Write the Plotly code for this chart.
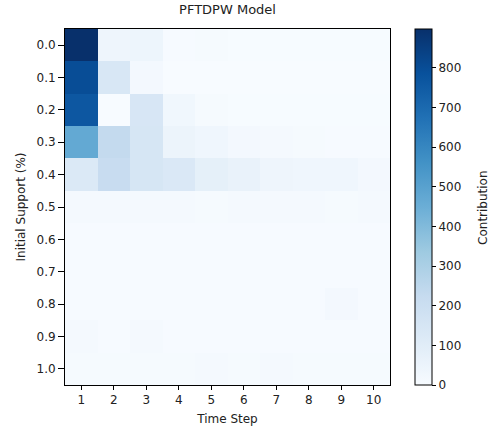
import plotly.graph_objects as go

time_steps = [1, 2, 3, 4, 5, 6, 7, 8, 9, 10]
initial_support = [0.0, 0.1, 0.2, 0.3, 0.4, 0.5, 0.6, 0.7, 0.8, 0.9, 1.0]

contribution = [
    [898, 40, 45, 5, 10, 3, 3, 3, 3, 3],
    [800, 140, 20, 2, 2, 2, 2, 2, 2, 2],
    [765, 0, 145, 30, 10, 3, 3, 3, 3, 3],
    [470, 230, 150, 50, 35, 20, 15, 8, 5, 5],
    [125, 215, 150, 130, 80, 65, 40, 35, 35, 20],
    [15, 15, 15, 15, 10, 15, 15, 15, 10, 15],
    [5, 5, 5, 5, 5, 5, 5, 5, 5, 5],
    [5, 5, 5, 5, 5, 5, 5, 5, 5, 5],
    [5, 5, 5, 5, 5, 5, 5, 5, 20, 5],
    [15, 5, 15, 5, 5, 5, 5, 5, 5, 5],
    [8, 8, 8, 8, 12, 8, 12, 8, 8, 8],
]

blues = [
    [0.0, "#f7fbff"], [0.125, "#deebf7"], [0.25, "#c6dbef"], [0.375, "#9ecae1"],
    [0.5, "#6baed6"], [0.625, "#4292c6"], [0.75, "#2171b5"], [0.875, "#08519c"],
    [1.0, "#08306b"],
]

fig = go.Figure(go.Heatmap(
    x=time_steps, y=initial_support, z=contribution,
    colorscale=blues, zmin=0, zmax=898,
    colorbar=dict(
        x=1.046, xanchor="left", y=0, yanchor="bottom", len=1, lenmode="fraction",
        xpad=10, ypad=0,
        thickness=17, outlinewidth=1, outlinecolor="black",
        ticks="outside", ticklen=4, tickcolor="black",
        tickvals=[0, 100, 200, 300, 400, 500, 600, 700, 800],
        tickfont=dict(size=12, color="#222"),
    ),
))

fig.update_layout(
    width=500, height=430,
    margin=dict(l=65, r=110, t=29, b=45, autoexpand=False),
    paper_bgcolor="white", plot_bgcolor="white",
    font=dict(family="DejaVu Sans", color="#222"),
    title=dict(text="PFTDPW Model", x=0.455, xanchor="center", y=0.988, yanchor="top",
               font=dict(size=13, color="#222")),
    annotations=[dict(
        text="Contribution", textangle=-90, xref="paper", yref="paper",
        x=1.286, y=0.5, xanchor="center", yanchor="middle", showarrow=False,
        font=dict(size=12, color="#222"),
    )],
)
fig.update_xaxes(
    title=dict(text="Time Step", font=dict(size=12), standoff=8),
    tickvals=time_steps, ticks="outside", ticklen=4, tickcolor="black",
    showline=True, linecolor="black", mirror=True, showgrid=False, zeroline=False,
    tickfont=dict(size=12), range=[0.5, 10.5],
)
fig.update_yaxes(
    title=dict(text="Initial Support (%)", font=dict(size=12), standoff=8),
    tickvals=initial_support, tickformat=".1f", ticks="outside", ticklen=6, tickcolor="black",
    showline=True, linecolor="black", mirror=True, showgrid=False, zeroline=False,
    tickfont=dict(size=12), range=[1.05, -0.05],
)

fig.write_html("out.html")
